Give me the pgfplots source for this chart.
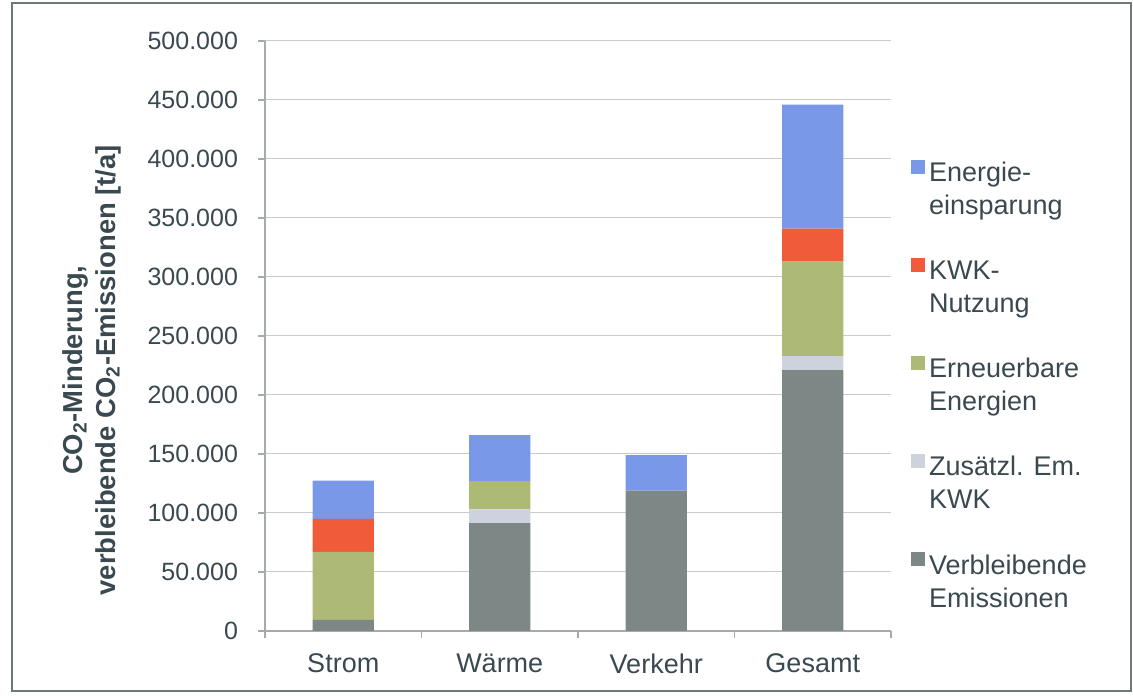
\documentclass[border=0pt]{standalone}
\usepackage{fontspec}
\setmainfont{Liberation Sans}
\usepackage{pgfplots}
\pgfplotsset{compat=1.18}

\definecolor{txt}{RGB}{58,72,80}
\definecolor{axgray}{RGB}{165,170,172}
\definecolor{gridgray}{RGB}{200,202,204}
\definecolor{framegray}{RGB}{110,120,120}
\definecolor{cEnergie}{RGB}{122,152,232}
\definecolor{cKWK}{RGB}{240,92,58}
\definecolor{cEE}{RGB}{172,186,118}
\definecolor{cZus}{RGB}{206,210,220}
\definecolor{cVerb}{RGB}{125,135,133}

% two-line legend text, baseline on first line
\newcommand{\two}[2]{\begin{tabular}[t]{@{}l@{}}#1\\#2\end{tabular}}

\begin{document}
\begin{tikzpicture}
\path (0pt,0pt) rectangle (566.5pt,347.5pt);
\draw[framegray, line width=0.6pt] (6pt,2pt) rectangle (565.5pt,346pt);
\begin{axis}[
  at={(132.5pt,32pt)}, anchor=south west,
  scale only axis, width=313pt, height=295pt,
  ybar stacked, bar width=0.39,
  xmin=-0.5, xmax=3.5, ymin=0, ymax=500000,
  axis x line*=bottom, axis y line*=left,
  axis line style={draw=axgray, line width=0.6pt},
  ymajorgrids, grid style={draw=gridgray, line width=0.5pt},
  tick align=outside, major tick length=3.5pt,
  tick style={draw=axgray, line width=0.6pt},
  ytick={0,50000,...,500000},
  scaled y ticks=false,
  /pgf/number format/assume math mode=true,
  yticklabel style={/pgf/number format/fixed, /pgf/number format/1000 sep={.}, xshift=-6.5pt,
    font=\fontsize{12.5}{15}\selectfont, text=txt},
  xtick={-0.5,0.5,1.5,2.5,3.5}, xticklabels={},
  extra x ticks={0,1,2,3},
  extra x tick labels={Strom,Wärme,Verkehr,Gesamt},
  extra x tick style={major tick length=0pt,
    xticklabel style={yshift=-8pt, font=\fontsize{13.5}{16}\selectfont, text=txt}},
  ylabel={CO\textsubscript{2}-Minderung,\\verbleibende CO\textsubscript{2}-Emissionen [t/a]},
  ylabel style={at={(axis description cs:-0.277,0.442)}, anchor=center,
    align=center, font=\fontsize{13.7}{16.5}\selectfont\bfseries, text=txt},
  legend style={at={(axis description cs:1.022,0.815)}, anchor=north west,
    draw=none, fill=none, font=\fontsize{13.5}{16.5}\selectfont, text=txt,
    row sep=32pt, /tikz/every even column/.append style={column sep=5pt}},
  legend cell align=left,
  reverse legend,
  legend image code/.code={\fill[#1] (0pt,-1pt) rectangle (7pt,6pt);},
  every axis plot/.append style={draw=none},
]
\addplot[fill=cVerb] coordinates {(0,9500) (1,91500) (2,119000) (3,221000)};
\addlegendentry{\two{Verbleibende}{Emissionen}}
\addplot[fill=cZus] coordinates {(0,0) (1,11500) (2,0) (3,12000)};
\addlegendentry{\two{Zusätzl. Em.}{KWK}}
\addplot[fill=cEE] coordinates {(0,57500) (1,24000) (2,0) (3,80000)};
\addlegendentry{\two{Erneuerbare}{Energien}}
\addplot[fill=cKWK] coordinates {(0,28000) (1,0) (2,0) (3,28000)};
\addlegendentry{\two{KWK-}{Nutzung}}
\addplot[fill=cEnergie] coordinates {(0,32500) (1,39000) (2,30000) (3,105000)};
\addlegendentry{\two{Energie-}{einsparung}}
\end{axis}
\end{tikzpicture}
\end{document}
